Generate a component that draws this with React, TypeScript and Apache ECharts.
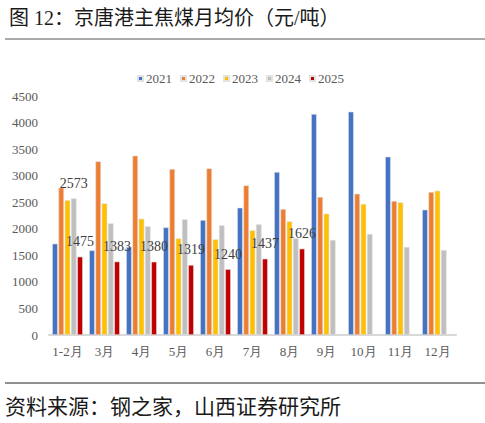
import { useEffect, useRef } from 'react'
import * as echarts from 'echarts'

const months = ['1-2月', '3月', '4月', '5月', '6月', '7月', '8月', '9月', '10月', '11月', '12月']
const years = ['2021', '2022', '2023', '2024', '2025']
const colors = ['#4472C4', '#ED7D31', '#FFC000', '#BFBFBF', '#C00000']

const price2021 = [1720, 1594, 1657, 2027, 2165, 2397, 3069, 4161, 4205, 3358, 2360]
const price2022 = [2774, 3270, 3376, 3125, 3138, 2818, 2372, 2598, 2661, 2523, 2692]
const price2023 = [2536, 2479, 2190, 1820, 1801, 1971, 2140, 2285, 2466, 2498, 2718]
const price2024 = [2573, 2102, 2046, 2178, 2065, 2084, 1820, 1789, 1902, 1657, 1600]
const price2025 = [1475, 1383, 1380, 1319, 1240, 1437, 1626, null, null, null, null]

const yTicks = { min: 0, max: 4500, interval: 500 }

const serif = '"Liberation Serif", "Times New Roman", serif'
const titleFont = '"Liberation Serif", "Noto Sans CJK SC", sans-serif'

export default function App() {
  const ref = useRef<HTMLDivElement | null>(null)

  useEffect(() => {
    if (!ref.current) return
    const chart = echarts.init(ref.current, undefined, { renderer: 'svg' })

    const valueLabel = {
      show: true,
      position: 'top',
      distance: 8,
      fontFamily: serif,
      fontSize: 14,
      color: '#404040',
    }

    const allSeries = [price2021, price2022, price2023, price2024, price2025].map((values, i) => ({
      name: years[i],
      type: 'bar',
      barGap: '12%',
      barCategoryGap: '17%',
      itemStyle: { color: colors[i], borderColor: '#e3e3e3', borderWidth: 0.6 },
      label: i === 4 ? valueLabel : { show: false },
      data:
        i === 3
          ? values.map((v, j) => (j === 0 ? { value: v, label: valueLabel } : v))
          : values,
    }))

    chart.setOption({
      animation: false,
      backgroundColor: '#ffffff',
      title: {
        text: '图 12：京唐港主焦煤月均价（元/吨）',
        left: 4,
        top: 3,
        textStyle: { fontFamily: titleFont, fontSize: 20, fontWeight: 'normal', color: '#1a1a1a' },
      },
      legend: {
        top: 67,
        left: 132,
        itemWidth: 5,
        itemHeight: 5,
        itemGap: 8,
        icon: 'rect',
        textStyle: { fontFamily: serif, fontSize: 13, color: '#595959', padding: [0, 0, 0, -2] },
        data: years,
      },
      grid: { left: 49, right: 29, top: 96, bottom: 88 },
      xAxis: {
        type: 'category',
        data: months,
        axisLine: { lineStyle: { color: '#d9d9d9', width: 2 } },
        axisTick: { show: false },
        axisLabel: { fontFamily: serif, fontSize: 13, color: '#595959', margin: 10, interval: 0 },
      },
      yAxis: {
        type: 'value',
        ...yTicks,
        splitLine: { show: false },
        axisLine: { show: false },
        axisLabel: {
          fontFamily: serif,
          fontSize: 13,
          color: '#595959',
          margin: 11,
          formatter: (v: number) => String(v),
        },
      },
      series: allSeries,
      graphic: [
        {
          type: 'line',
          shape: { x1: 5, y1: 39, x2: 485, y2: 39 },
          style: { stroke: '#555555', lineWidth: 1 },
        },
        {
          type: 'line',
          shape: { x1: 5, y1: 383, x2: 485, y2: 383 },
          style: { stroke: '#222222', lineWidth: 1 },
        },
        {
          type: 'text',
          left: 5,
          top: 396,
          style: {
            text: '资料来源：钢之家，山西证券研究所',
            fontFamily: titleFont,
            fontSize: 21,
            fill: '#1a1a1a',
          },
        },
      ],
    })

    return () => chart.dispose()
  }, [])

  return (
    <div
      ref={ref}
      style={{ position: 'fixed', left: 0, top: 0, width: 485, height: 423 }}
    />
  )
}
